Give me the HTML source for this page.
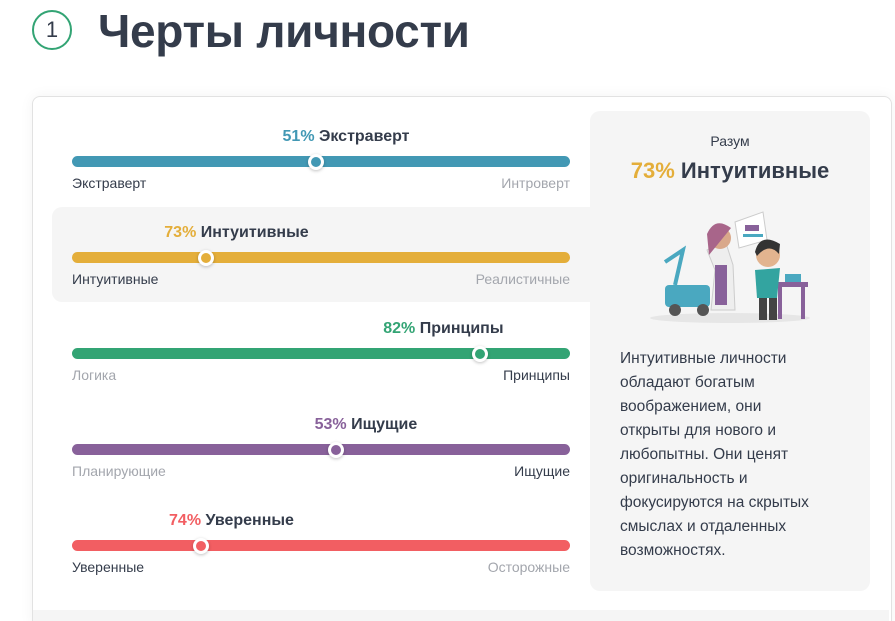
<!DOCTYPE html>
<html style="overflow:hidden;height:621px"><head><meta charset="utf-8"><style>
body{margin:0;width:895px;height:621px;overflow:hidden;background:#fff;font-family:"Liberation Sans",sans-serif;position:relative;color:#343c4b}
.abs{position:absolute}
</style></head><body>
<div class="abs" style="left:32px;top:10px;width:40px;height:40px;border:2px solid #33a474;border-radius:50%;box-sizing:border-box;text-align:center;line-height:36px;font-size:22px;color:#343c4b">1</div>
<div class="abs" style="left:98px;top:4px;font-size:46px;font-weight:bold;color:#343c4b;letter-spacing:-0.3px">Черты личности</div>
<div class="abs" style="left:32px;top:96px;width:858px;height:530px;border:1px solid #e2e2e2;border-radius:8px;box-shadow:0 0 14px rgba(0,0,0,0.05)"></div>
<div class="abs" style="left:33px;top:610px;width:856px;height:11px;background:#f5f5f5"></div>
<div class="abs" style="left:52px;top:207px;width:545px;height:95px;background:#f5f5f5;border-radius:10px 0 0 10px"></div>
<div class="abs" style="left:590px;top:111px;width:280px;height:480px;background:#f5f5f5;border-radius:10px"></div>
<div class="abs" style="left:590px;top:133px;width:280px;text-align:center;font-size:14px">Разум</div>
<div class="abs" style="left:590px;top:158px;width:280px;text-align:center;font-size:22px;font-weight:bold"><span style="color:#e4ae3a">73%</span> Интуитивные</div>
<svg class="abs" style="left:645px;top:210px" width="170" height="115" viewBox="0 0 170 115">
<ellipse cx="85" cy="108" rx="80" ry="5" fill="#e6e6e6"/>
<rect x="20" y="75" width="45" height="22" rx="4" fill="#4aa8c0"/><circle cx="30" cy="100" r="6" fill="#555"/><circle cx="58" cy="100" r="6" fill="#555"/>
<path d="M30 75 L38 40 L20 52" stroke="#4aa8c0" stroke-width="4" fill="none"/>
<path d="M62 40 L80 30 L88 55 L90 100 L66 100 L70 60Z" fill="#eee" stroke="#ccc"/>
<rect x="70" y="55" width="12" height="40" fill="#88619a"/>
<circle cx="75" cy="28" r="11" fill="#d9a88a"/><path d="M62 24 Q70 6 86 18 L64 45Z" fill="#a8658a"/>
<path d="M90 12 L118 2 L122 30 L94 38Z" fill="#fff" stroke="#ccc"/><rect x="98" y="24" width="20" height="3" fill="#4aa8c0"/><rect x="100" y="15" width="14" height="6" fill="#88619a"/>
<rect x="130" y="72" width="33" height="5" fill="#88619a"/><rect x="133" y="77" width="4" height="32" fill="#88619a"/><rect x="156" y="77" width="4" height="32" fill="#88619a"/><rect x="140" y="64" width="16" height="8" fill="#4aa8c0"/>
<path d="M110 60 L135 58 L132 88 L112 88Z" fill="#33a4a0"/><rect x="114" y="88" width="8" height="22" fill="#444"/><rect x="124" y="88" width="8" height="22" fill="#444"/>
<circle cx="123" cy="45" r="12" fill="#e2b48f"/><path d="M110 42 Q115 22 135 34 L134 44 Q124 32 112 46Z" fill="#333"/>
</svg>
<div class="abs" style="left:620px;top:347px;width:200px;font-size:15.5px;line-height:24px;color:#343c4b">Интуитивные личности обладают богатым воображением, они открыты для нового и любопытны. Они ценят оригинальность и фокусируются на скрытых смыслах и отдаленных возможностях.</div>
<div id="bars"></div>
<script>
const traitNames=["Экстраверт","Интуитивные","Принципы","Ищущие","Уверенные"];
const percents=[51,73,82,53,74];
const leftPoles=["Экстраверт","Интуитивные","Логика","Планирующие","Уверенные"];
const rightPoles=["Интроверт","Реалистичные","Принципы","Ищущие","Осторожные"];
const dominantIsLeft=[true,true,false,false,true];
const colors=["#4298b4","#e4ae3a","#33a474","#88619a","#f25e62"];
const X0=72,W=498,TOP=156,STEP=96;
const xs=v=>X0+v/100*W;
const c=document.getElementById('bars');
traitNames.forEach((n,i)=>{
  const pos=dominantIsLeft[i]?100-percents[i]:percents[i];
  const kx=xs(pos),y=TOP+i*STEP;
  const center=pos<60?kx+30:kx-37;
  const lab=document.createElement('div');lab.className='abs';
  
  
  lab.style.cssText=`left:${center-150}px;width:300px;text-align:center;top:${y-28}px;font-size:16px;font-weight:bold;color:#343c4b`;
  lab.innerHTML=`<span style="color:${colors[i]}">${percents[i]}%</span> ${n}`;c.appendChild(lab);
  const bar=document.createElement('div');bar.className='abs';
  
  
  bar.style.cssText=`left:${X0}px;top:${y}px;width:${W}px;height:11px;border-radius:6px;background:${colors[i]}`;c.appendChild(bar);
  const k=document.createElement('div');k.className='abs';
  
  
  k.style.cssText=`left:${kx-8}px;top:${y-2.5}px;width:16px;height:16px;border-radius:50%;box-sizing:border-box;border:3px solid #fff;background:${colors[i]};box-shadow:0 1px 3px rgba(0,0,0,.25)`;c.appendChild(k);
  const l=document.createElement('div');l.className='abs';
  
  
  l.style.cssText=`left:${X0}px;top:${y+19}px;font-size:14px;color:${dominantIsLeft[i]?'#343c4b':'#a3a6ad'}`;l.textContent=leftPoles[i];c.appendChild(l);
  const r=document.createElement('div');r.className='abs';
  
  
  r.style.cssText=`right:${895-X0-W}px;top:${y+19}px;font-size:14px;text-align:right;color:${dominantIsLeft[i]?'#a3a6ad':'#343c4b'}`;r.textContent=rightPoles[i];c.appendChild(r);
});
</script>
</body></html>
